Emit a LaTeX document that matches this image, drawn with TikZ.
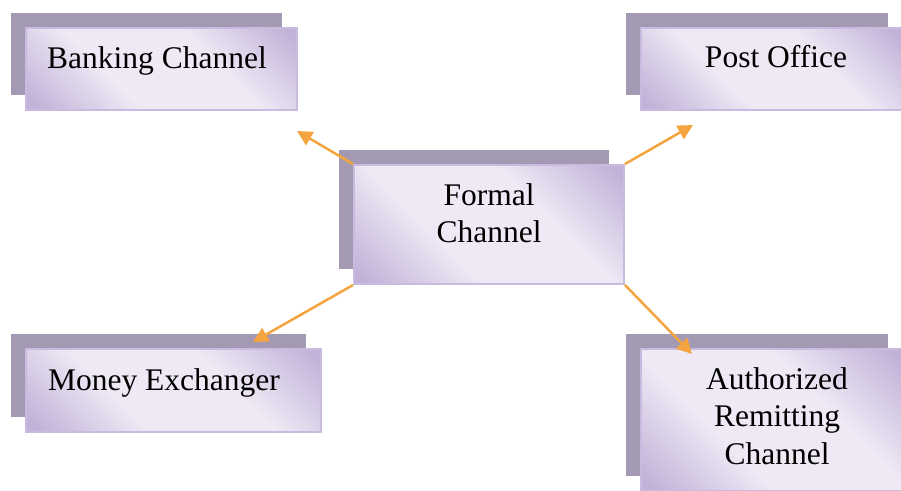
\documentclass[tikz,border=0pt]{standalone}
\usepackage{fontspec}
\setmainfont{Liberation Serif}
\usetikzlibrary{arrows.meta,shadows}

\definecolor{boxdark}{HTML}{C2B2D8}
\definecolor{boxlight}{HTML}{EEE9F5}
\definecolor{boxedge}{HTML}{C8BBDF}
\definecolor{boxshadow}{HTML}{A499B2}
\definecolor{linkorange}{HTML}{F4A43E}

% dark corners, light diagonal band
\pgfdeclarehorizontalshading{lavender}{100bp}{%
  color(0bp)=(boxdark); color(17bp)=(boxdark); color(38bp)=(boxlight);
  color(62bp)=(boxlight); color(83bp)=(boxdark); color(100bp)=(boxdark)}

\tikzset{
  card/.style={draw=boxedge, line width=2pt, shading=lavender, shading angle=45,
    inner sep=0pt,
    general shadow={fill=boxshadow, shadow xshift=-15pt, shadow yshift=15pt,
      draw=none}},
  label/.style={inner sep=0pt, align=center,
    font=\fontsize{31.5}{37.5}\selectfont},
  link/.style={draw=linkorange, line width=2.5pt,
    -{Triangle[length=15pt,width=15pt]}}
}

\begin{document}
\begin{tikzpicture}[x=1pt,y=-1pt]
\useasboundingbox (0,0) rectangle (901,490);

% boxes
\node[card, minimum width=271pt, minimum height=82pt] (bank) at (161.5,69) {};
\node[card, minimum width=262pt, minimum height=82pt] (post) at (772,69) {};
\node[card, minimum width=270pt, minimum height=119pt] (formal) at (489,224.5) {};
\node[card, minimum width=295pt, minimum height=83pt] (money) at (173.5,390.5) {};
\node[card, minimum width=262pt, minimum height=142pt] (auth) at (772,420) {};

% texts
\node[label, anchor=base] (bank-t) at (157,68) {Banking Channel};
\node[label, anchor=base] (post-t) at (776,67) {Post Office};
\node[label] (formal-t) at (489,213) {Formal\\Channel};
\node[label, anchor=base] (money-t) at (164,390) {Money Exchanger};
\node[label] (auth-t) at (777,416) {Authorized\\Remitting\\Channel};

% connectors
\coordinate (bank-e) at (297,131);
\coordinate (post-e) at (693,125);
\coordinate (money-e) at (253,342);
\coordinate (auth-e) at (692,354);
\draw[link] (formal.north west) -- (bank-e);
\draw[link] (formal.north east) -- (post-e);
\draw[link] (formal.south west) -- (money-e);
\draw[link] (formal.south east) -- (auth-e);
\end{tikzpicture}
\end{document}
